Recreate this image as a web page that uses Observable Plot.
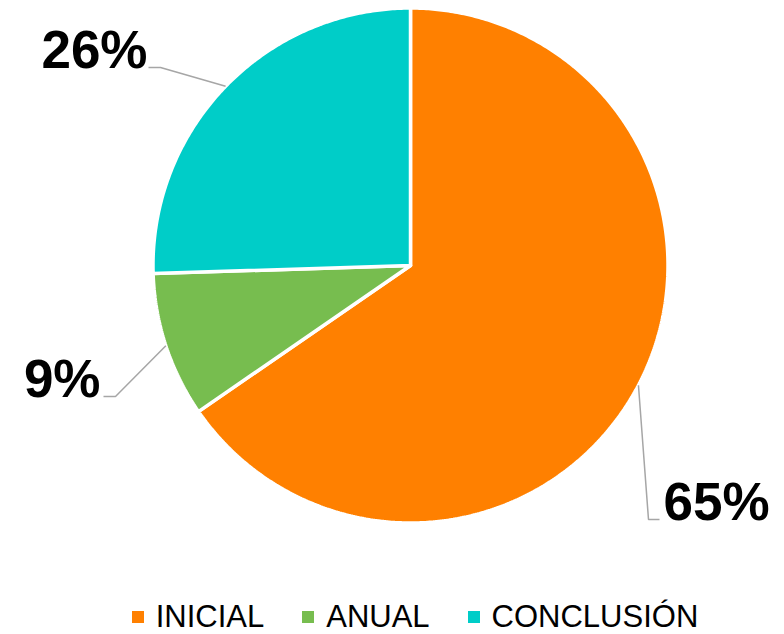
<!DOCTYPE html>
<html>
<head>
<meta charset="utf-8">
<script src="https://cdn.jsdelivr.net/npm/d3@7"></script>
<script src="https://cdn.jsdelivr.net/npm/@observablehq/plot@0.6"></script>
<style>
  html, body { margin: 0; padding: 0; background: #fff; overflow: hidden; }
  #chart { width: 784px; }
  #chart svg { display: block; }
  .legend { display: flex; justify-content: center; align-items: center; height: 35px; line-height: 35px;
            font-family: "Liberation Sans", Arial, sans-serif; font-size: 31px; color: #000; padding-left: 46px; }
  .legend .item { display: flex; align-items: center; margin: 0 19px; }
  .legend .sw { width: 12px; height: 12px; margin-right: 12px; }
</style>
</head>
<body>
<div id="chart"></div>
<script>
// ---- data ----
const categories = ["INICIAL", "ANUAL", "CONCLUSIÓN"];
const values = [65.4, 9.1, 25.5];
const labels = ["65%", "9%", "26%"];

// ---- styles / layout ----
const colors = ["#FF8000", "#77BD4F", "#00CDC8"];
const cx = 410, cy = 265, R = 257.5;
const W = 784, H = 599;
// label layout in pixel coordinates: [bend, end, text anchor point, text-anchor]
const labelLayout = [
  {bend: [648, 519], end: [659, 519], text: [663, 519], anchor: "start"},
  {bend: [115, 396], end: [103, 396], text: [100, 396], anchor: "end"},
  {bend: [160, 67], end: [148, 67], text: [147, 67], anchor: "end"}
];
const toX = px => (px - cx) / R;
const toY = py => (cy - py) / R;

// ---- build slices from data ----
const total = d3.sum(values);
const slices = [];
const leaders = [];
const labelRows = [];
let acc = 0;
values.forEach((v, i) => {
  const a0 = acc / total * 2 * Math.PI;
  acc += v;
  const a1 = acc / total * 2 * Math.PI;
  slices.push({cat: categories[i], x: 0, y: 0});
  const n = Math.max(2, Math.ceil((a1 - a0) / (Math.PI / 360)));
  for (let k = 0; k <= n; k++) {
    const a = a0 + (a1 - a0) * k / n;
    slices.push({cat: categories[i], x: Math.sin(a), y: Math.cos(a)});
  }
  slices.push({cat: categories[i], x: 0, y: 0});
  const am = (a0 + a1) / 2;
  const L = labelLayout[i];
  leaders.push({id: i, x: Math.sin(am), y: Math.cos(am)});
  leaders.push({id: i, x: toX(L.bend[0]), y: toY(L.bend[1])});
  leaders.push({id: i, x: toX(L.end[0]), y: toY(L.end[1])});
  labelRows.push({label: labels[i], x: toX(L.text[0]), y: toY(L.text[1]), anchor: L.anchor});
});

const chart = Plot.plot({
  width: W,
  height: H,
  margin: 0,
  style: {fontFamily: "'Liberation Sans', Arial, sans-serif", background: "#fff", overflow: "visible"},
  x: {type: "linear", domain: [-1, 1], range: [cx - R, cx + R], axis: null},
  y: {type: "linear", domain: [-1, 1], range: [cy + R, cy - R], axis: null},
  color: {domain: categories, range: colors},
  marks: [
    Plot.line(slices, {x: "x", y: "y", z: "cat", fill: "cat", stroke: "white", strokeWidth: 3.5, strokeLinejoin: "miter"}),
    Plot.line(leaders, {x: "x", y: "y", z: "id", stroke: "#A6A6A6", strokeWidth: 1.5, strokeLinejoin: "miter", strokeLinecap: "butt"}),
    Plot.text(labelRows.filter(d => d.anchor === "start"), {x: "x", y: "y", text: "label", textAnchor: "start", lineAnchor: "bottom", fontSize: 53, fontWeight: "bold", fill: "#000"}),
    Plot.text(labelRows.filter(d => d.anchor === "end"), {x: "x", y: "y", text: "label", textAnchor: "end", lineAnchor: "bottom", fontSize: 53, fontWeight: "bold", fill: "#000"})
  ]
});
document.getElementById("chart").appendChild(chart);

// legend below the svg
const legend = document.createElement("div");
legend.className = "legend";
categories.forEach((c, i) => {
  const item = document.createElement("div");
  item.className = "item";
  const sw = document.createElement("span");
  sw.className = "sw";
  sw.style.background = colors[i];
  const t = document.createElement("span");
  t.textContent = c;
  item.appendChild(sw);
  item.appendChild(t);
  legend.appendChild(item);
});
document.getElementById("chart").appendChild(legend);
</script>
</body>
</html>
